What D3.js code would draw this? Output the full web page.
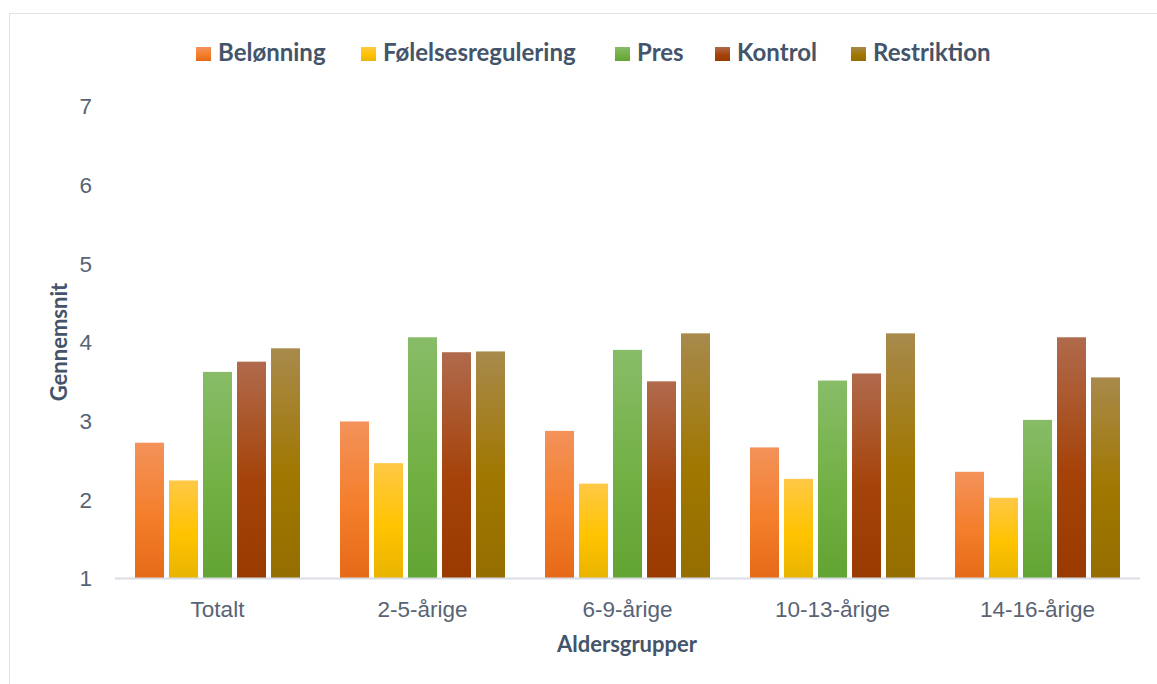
<!DOCTYPE html>
<html lang="da">
<head>
<meta charset="UTF-8">
<title>Gennemsnit efter aldersgrupper</title>
<script src="https://d3js.org/d3.v7.min.js"></script>
<style>
  body { margin: 0; background: #fff; }
  svg { display: block; font-family: Lato, "Open Sans", sans-serif; }
  .tick text { fill: #586374; font-size: 22.5px; }
  .axis-title { fill: #44546A; font-weight: bold; font-size: 22px; }
  .legend text { fill: #44546A; font-weight: bold; font-size: 24px; }
</style>
</head>
<body>
<svg id="chart" width="1157" height="684"></svg>
<script>
// data
const groups = ["Totalt", "2-5-årige", "6-9-årige", "10-13-årige", "14-16-årige"];
const series = ["Belønning", "Følelsesregulering", "Pres", "Kontrol", "Restriktion"];
const belonning = [2.72, 2.99, 2.87, 2.66, 2.35];
const folelse = [2.24, 2.46, 2.20, 2.26, 2.02];
const pres = [3.62, 4.06, 3.90, 3.51, 3.01];
const kontrol = [3.75, 3.87, 3.50, 3.60, 4.06];
const restriktion = [3.92, 3.88, 4.11, 4.11, 3.55];
const yTicks = [1, 2, 3, 4, 5, 6, 7];

const values = [belonning, folelse, pres, kontrol, restriktion];
// light top, base middle, dark bottom
const colors = [
  ["#F3925A", "#F47E2A", "#E56A18"],
  ["#FFC846", "#FFC300", "#E9B400"],
  ["#88BC68", "#72B044", "#62A434"],
  ["#B06A4C", "#A5430A", "#993A00"],
  ["#A88A4C", "#A07700", "#946E00"]
];

const svg = d3.select("#chart");

// chart frame
svg.append("rect")
  .attr("x", 9.5).attr("y", 13.5)
  .attr("width", 1200).attr("height", 700)
  .attr("fill", "none").attr("stroke", "#DFE2E8");

const defs = svg.append("defs");
colors.forEach((c, i) => {
  const g = defs.append("linearGradient")
    .attr("id", "grad" + i)
    .attr("x1", 0).attr("y1", 0).attr("x2", 0).attr("y2", 1);
  g.append("stop").attr("offset", "0%").attr("stop-color", c[0]);
  g.append("stop").attr("offset", "55%").attr("stop-color", c[1]);
  g.append("stop").attr("offset", "100%").attr("stop-color", c[2]);
});

const x0 = d3.scaleBand().domain(groups).range([115, 1140]).paddingInner(0).paddingOuter(0);
const x1 = d3.scaleBand().domain(series).range([20, x0.bandwidth() - 20])
  .paddingInner(0.147).paddingOuter(0);
const y = d3.scaleLinear().domain([1, 7]).range([578, 106]);

// bars
const g = svg.append("g");
groups.forEach((grp, gi) => {
  g.selectAll(null)
    .data(series.map((s, si) => ({ s, si, v: values[si][gi] })))
    .join("rect")
    .attr("x", d => x0(grp) + x1(d.s))
    .attr("y", d => y(d.v))
    .attr("width", x1.bandwidth())
    .attr("height", d => y(1) - y(d.v))
    .attr("fill", d => "url(#grad" + d.si + ")");
});

// baseline
svg.append("line")
  .attr("x1", 115).attr("x2", 1140)
  .attr("y1", 578.5).attr("y2", 578.5)
  .attr("stroke", "#D9DDE3").attr("stroke-width", 2);

// y axis
const yAxis = svg.append("g")
  .attr("transform", "translate(92,0)")
  .call(d3.axisLeft(y).tickValues(yTicks).tickFormat(d3.format("d")).tickSize(0).tickPadding(0));
yAxis.select(".domain").remove();
yAxis.selectAll("text").attr("dy", "0.35em");

// x axis
const xAxis = svg.append("g")
  .attr("transform", "translate(0,617)")
  .call(d3.axisBottom(x0).tickSize(0).tickPadding(0));
xAxis.select(".domain").remove();
xAxis.selectAll("text").attr("dy", 0);

// axis titles
svg.append("text").attr("class", "axis-title")
  .attr("transform", "translate(67,342) rotate(-90)")
  .attr("text-anchor", "middle")
  .text("Gennemsnit");
svg.append("text").attr("class", "axis-title")
  .attr("x", 627).attr("y", 652)
  .attr("text-anchor", "middle")
  .text("Aldersgrupper");

// legend
const legX = [196, 361, 615, 715, 851];
const legend = svg.append("g").attr("class", "legend");
series.forEach((s, i) => {
  legend.append("rect")
    .attr("x", legX[i]).attr("y", 47)
    .attr("width", 15).attr("height", 14)
    .attr("fill", "url(#grad" + i + ")");
  legend.append("text")
    .attr("x", legX[i] + 22).attr("y", 61)
    .text(s);
});
</script>
</body>
</html>
